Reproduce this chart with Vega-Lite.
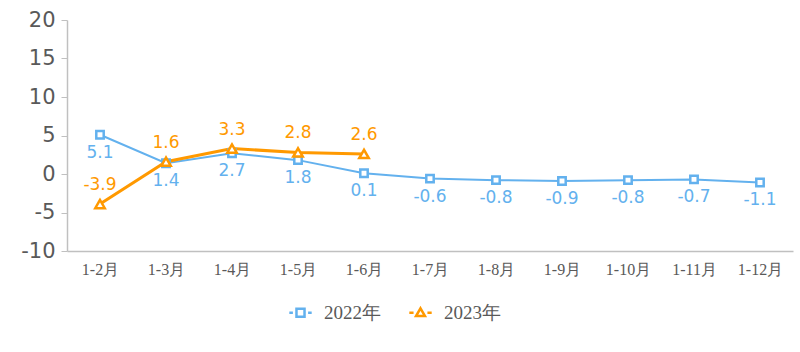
{
  "$schema": "https://vega.github.io/schema/vega-lite/v6.json",
  "autosize": "none",
  "width": 726,
  "height": 231,
  "padding": {"left": 67, "top": 20, "right": 7, "bottom": 101},
  "background": "white",
  "config": {
    "view": {"stroke": null},
    "locale": {"number": {"decimal": ".", "thousands": ",", "grouping": [3], "currency": ["$", ""], "minus": "-"}}
  },
  "data": {"values": [
    {"month": "1-2月", "series": "2022年", "value": 5.1},
    {"month": "1-3月", "series": "2022年", "value": 1.4},
    {"month": "1-4月", "series": "2022年", "value": 2.7},
    {"month": "1-5月", "series": "2022年", "value": 1.8},
    {"month": "1-6月", "series": "2022年", "value": 0.1},
    {"month": "1-7月", "series": "2022年", "value": -0.6},
    {"month": "1-8月", "series": "2022年", "value": -0.8},
    {"month": "1-9月", "series": "2022年", "value": -0.9},
    {"month": "1-10月", "series": "2022年", "value": -0.8},
    {"month": "1-11月", "series": "2022年", "value": -0.7},
    {"month": "1-12月", "series": "2022年", "value": -1.1},
    {"month": "1-2月", "series": "2023年", "value": -3.9},
    {"month": "1-3月", "series": "2023年", "value": 1.6},
    {"month": "1-4月", "series": "2023年", "value": 3.3},
    {"month": "1-5月", "series": "2023年", "value": 2.8},
    {"month": "1-6月", "series": "2023年", "value": 2.6}
  ]},
  "encoding": {
    "x": {
      "field": "month", "type": "ordinal",
      "sort": ["1-2月","1-3月","1-4月","1-5月","1-6月","1-7月","1-8月","1-9月","1-10月","1-11月","1-12月"],
      "scale": {"type": "point", "padding": 0.5},
      "axis": {"title": null, "labelAngle": 0, "ticks": false, "domainColor": "#c0c0c0", "domainWidth": 1.5,
        "labelFont": "Liberation Serif", "labelFontSize": 16, "labelColor": "#595959", "labelPadding": 10, "grid": false}
    },
    "y": {
      "field": "value", "type": "quantitative",
      "scale": {"domain": [-10, 20], "nice": false, "zero": false},
      "axis": {"title": null, "values": [-10, -5, 0, 5, 10, 15, 20], "grid": false, "domainColor": "#c0c0c0", "domainWidth": 1.5,
        "tickColor": "#c0c0c0", "tickSize": 6, "labelFont": "DejaVu Sans", "labelFontSize": 21, "labelColor": "#595959", "labelPadding": 6}
    }
  },
  "layer": [
    {
      "transform": [{"filter": "datum.series === '2022年'"}],
      "mark": {"type": "line", "color": "#63B1EE", "strokeWidth": 2}
    },
    {
      "transform": [{"filter": "datum.series === '2023年'"}],
      "mark": {"type": "line", "color": "#FF9900", "strokeWidth": 3}
    },
    {
      "transform": [{"filter": "datum.series === '2022年'"}],
      "mark": {"type": "point", "shape": "square", "filled": true, "fill": "white", "stroke": "#63B1EE", "strokeWidth": 2.5, "size": 55, "opacity": 1}
    },
    {
      "transform": [{"filter": "datum.series === '2023年'"}],
      "mark": {"type": "point", "shape": "triangle-up", "filled": true, "fill": "white", "stroke": "#FF9900", "strokeWidth": 2.5, "size": 90, "opacity": 1}
    },
    {
      "transform": [{"filter": "datum.series === '2022年'"}],
      "mark": {"type": "text", "color": "#63B1EE", "font": "DejaVu Sans", "fontSize": 17, "dy": 18, "align": "center", "baseline": "middle"},
      "encoding": {"text": {"field": "value", "type": "quantitative", "format": ".1f"}}
    },
    {
      "transform": [{"filter": "datum.series === '2023年'"}],
      "mark": {"type": "text", "color": "#FF9900", "font": "DejaVu Sans", "fontSize": 17, "dy": -19, "align": "center", "baseline": "middle"},
      "encoding": {"text": {"field": "value", "type": "quantitative", "format": ".1f"}}
    },
    {
      "mark": {"type": "point", "opacity": 0, "filled": false, "strokeWidth": 2.5, "size": 500},
      "encoding": {
        "color": {
          "field": "series", "type": "nominal",
          "scale": {"domain": ["2022年", "2023年"], "range": ["#63B1EE", "#FF9900"]},
          "legend": {
            "title": null, "orient": "none", "legendX": 221, "legendY": 280, "direction": "horizontal",
            "symbolSize": 500, "symbolStrokeWidth": 2.5, "symbolFillColor": "white", "symbolOpacity": 1,
            "labelFont": "Liberation Serif", "labelFontSize": 19, "labelColor": "#595959", "labelOffset": 11,
            "columnPadding": 23, "padding": 0,
            "encode": {"symbols": {"update": {"opacity": {"value": 1}, "fill": {"value": "white"}}}}
          }
        },
        "shape": {
          "field": "series", "type": "nominal",
          "scale": {"domain": ["2022年", "2023年"], "range": [
            "M-1,0H-0.68M-0.36,-0.36H0.36V0.36H-0.36ZM0.68,0H1",
            "M-1,0H-0.62M0,-0.4L0.4,0.3H-0.4ZM0.62,0H1"
          ]}
        }
      }
    }
  ]
}
